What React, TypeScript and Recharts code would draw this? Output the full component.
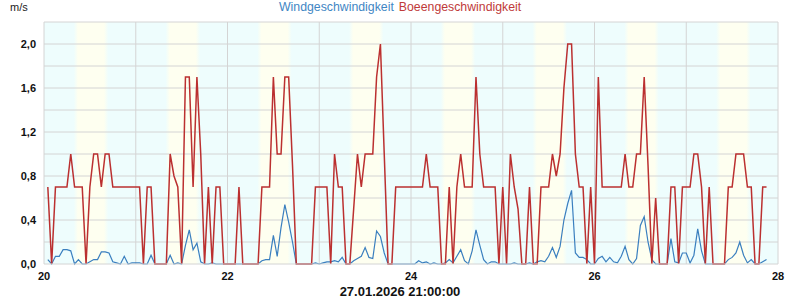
import { LineChart, Line, XAxis, YAxis, ReferenceArea, ReferenceLine } from 'recharts';

// hourly values, one array per day (hour 0..23), m/s
const days = [20, 21, 22, 23, 24, 25, 26, 27];

const gust20 = [null, 0.7, 0, 0.7, 0.7, 0.7, 0.7, 1.0, 0.7, 0.7, 0.7, 0, 0.7, 1.0, 1.0, 0.7, 1.0, 1.0, 0.7, 0.7, 0.7, 0.7, 0.7, 0.7];
const gust21 = [0.7, 0.7, 0, 0.7, 0.7, 0, 0, 0, 0, 1.0, 0.8, 0.7, 0, 1.7, 1.7, 0.7, 1.7, 1.0, 0, 0.7, 0, 0.7, 0.7, 0];
const gust22 = [0, 0, 0, 0.7, 0, 0, 0, 0, 0, 0.7, 0.7, 0.7, 1.7, 1.0, 1.0, 1.7, 1.7, 0.9, 0, 0, 0, 0, 0, 0.7];
const gust23 = [0.7, 0.7, 0.7, 0, 1.0, 0.7, 0.7, 0, 0, 0.5, 1.0, 0.7, 1.0, 1.0, 1.0, 1.7, 2.0, 1.0, 0, 0, 0.7, 0.7, 0.7, 0.7];
const gust24 = [0.7, 0.7, 0.7, 0.7, 1.0, 0.7, 0.7, 0.7, 0, 0, 0.7, 0, 0.7, 1.0, 0.7, 0.7, 0.7, 1.7, 1.0, 0.7, 0.7, 0.7, 0.7, 0];
const gust25 = [0.7, 0, 1.0, 0.7, 0.5, 0, 0, 0.7, 0, 0, 0.7, 0.7, 0.7, 1.0, 0.8, 1.0, 1.6, 2.0, 2.0, 1.0, 0.7, 0.7, 0, 0.7];
const gust26 = [0, 1.7, 0.7, 0.7, 0.7, 0.7, 0.7, 0.7, 1.0, 0.7, 0.7, 1.0, 1.0, 1.7, 0.9, 0, 0.6, 0, 0, 0, 0.7, 0.7, 0, 0.7];
const gust27 = [0.7, 0.7, 1.0, 1.0, 0.7, 0, 0.7, 0, 0, 0, 0, 0.7, 0.7, 1.0, 1.0, 1.0, 0.7, 0.7, 0, 0, 0.7, 0.7];

const wind20 = [null, 0.04, 0, 0.07, 0.07, 0.13, 0.13, 0.12, 0, 0.04, 0, 0, 0.02, 0.04, 0.04, 0.11, 0.11, 0.1, 0.02, 0.01, 0, 0.07, 0, 0.01];
const wind21 = [0.01, 0.01, 0, 0, 0.08, 0, 0, 0, 0, 0.08, 0, 0.01, 0, 0.17, 0.31, 0.13, 0.19, 0.02, 0, 0, 0.01, 0, 0, 0];
const wind22 = [0, 0, 0, 0, 0, 0, 0, 0, 0, 0.03, 0.04, 0.04, 0.26, 0.07, 0.33, 0.54, 0.38, 0.2, 0, 0, 0, 0, 0, 0.01];
const wind23 = [0, 0.01, 0.02, 0.02, 0.03, 0.02, 0.06, 0, 0, 0.03, 0.05, 0.07, 0.15, 0.06, 0.05, 0.3, 0.25, 0.1, 0, 0, 0, 0, 0, 0];
const wind24 = [0, 0, 0.03, 0.01, 0.02, 0, 0.01, 0, 0, 0.01, 0.04, 0.01, 0.07, 0.13, 0.03, 0, 0.12, 0.31, 0.17, 0.04, 0, 0.02, 0.02, 0];
const wind25 = [0, 0, 0, 0.01, 0, 0, 0, 0.01, 0, 0.02, 0.03, 0.02, 0.07, 0.15, 0.06, 0.16, 0.4, 0.55, 0.67, 0.1, 0.06, 0.06, 0.04, 0];
const wind26 = [0, 0.05, 0.07, 0.02, 0.06, 0.02, 0.01, 0.07, 0.16, 0.04, 0, 0.05, 0.35, 0.43, 0.2, 0.04, 0, 0, 0, 0, 0.23, 0.02, 0.01, 0.1];
const wind27 = [0.1, 0.01, 0.08, 0.32, 0.12, 0, 0, 0, 0, 0, 0, 0.04, 0.06, 0.1, 0.2, 0.08, 0.01, 0.04, 0, 0, 0.02, 0.04];

const gustByDay = [gust20, gust21, gust22, gust23, gust24, gust25, gust26, gust27];
const windByDay = [wind20, wind21, wind22, wind23, wind24, wind25, wind26, wind27];

// daylight (hours) for the yellow bands
const sunrise = 7.8;
const sunset = 16.8;

const xTicks = [20, 22, 24, 26, 28];
const dayLines = [21, 22, 23, 24, 25, 26, 27, 28];
const yTicks = [0, 0.2, 0.4, 0.6, 0.8, 1.0, 1.2, 1.4, 1.6, 1.8, 2.0, 2.2];

const data: { t: number; wind: number; gust: number }[] = [];
days.forEach((d, di) => {
  gustByDay[di].forEach((g, h) => {
    const w = windByDay[di][h];
    if (g === null || w === null) return;
    data.push({ t: d + h / 24, wind: w, gust: g });
  });
});

const CYAN = '#eefdfd';
const YELLOW = '#fefff0';
const GRID = '#d4d4d4';
const FONT = '"Liberation Sans", Arial, sans-serif';

const yFormat = (v: number) => (Math.round(v * 10) % 4 === 0 ? v.toFixed(1).replace('.', ',') : '');

export default function App() {
  return (
    <div style={{ position: 'absolute', left: 0, top: 0, width: 800, height: 300, background: '#fff', fontFamily: FONT }}>
      <div style={{ position: 'absolute', left: 10, top: 1, fontSize: 11, color: '#222' }}>m/s</div>
      <div style={{ position: 'absolute', left: 279, top: 0, fontSize: 12.3, whiteSpace: 'nowrap' }}>
        <span style={{ color: '#3f86c4' }}>Windgeschwindigkeit</span>
        <span style={{ color: '#c03a3a', marginLeft: 5 }}>Boeengeschwindigkeit</span>
      </div>
      <div style={{ position: 'absolute', left: 0, width: 800, top: 284, textAlign: 'center', fontSize: 13, fontWeight: 'bold', color: '#111' }}>
        27.01.2026 21:00:00
      </div>
      <LineChart width={800} height={300} data={data} margin={{ top: 22, right: 22, bottom: 0, left: 0 }}>
        <defs>
          <linearGradient id="dayBand" x1="0" y1="0" x2="1" y2="0">
            <stop offset="0" stopColor={CYAN} />
            <stop offset="0.12" stopColor={YELLOW} />
            <stop offset="0.88" stopColor={YELLOW} />
            <stop offset="1" stopColor={CYAN} />
          </linearGradient>
        </defs>
        <XAxis
          dataKey="t"
          type="number"
          domain={[20, 28]}
          ticks={xTicks}
          tickLine={false}
          axisLine={{ stroke: GRID }}
          height={36}
          tick={{ fontSize: 11, fontWeight: 'bold', fill: '#111', fontFamily: FONT }}
        />
        <YAxis
          type="number"
          domain={[0, 2.2]}
          ticks={yTicks}
          interval={0}
          tickFormatter={yFormat}
          tickLine={false}
          axisLine={{ stroke: GRID }}
          width={44}
          tick={{ fontSize: 11, fontWeight: 'bold', fill: '#111', fontFamily: FONT }}
        />
        <ReferenceArea x1={20} x2={28} y1={0} y2={2.2} fill={CYAN} fillOpacity={1} stroke="none" />
        {days.map(d => (
          <ReferenceArea
            key={'b' + d}
            x1={d + sunrise / 24}
            x2={d + sunset / 24}
            y1={0}
            y2={2.2}
            fill="url(#dayBand)"
            fillOpacity={1}
            stroke="none"
          />
        ))}
        {yTicks.slice(1).map(v => (
          <ReferenceLine key={'y' + v} y={v} stroke={GRID} strokeWidth={1} />
        ))}
        {dayLines.map(d => (
          <ReferenceLine key={'x' + d} x={d} stroke={GRID} strokeWidth={1} />
        ))}
        <Line
          type="linear"
          dataKey="wind"
          stroke="#3a7fbf"
          strokeWidth={1.2}
          dot={false}
          isAnimationActive={false}
        />
        <Line
          type="linear"
          dataKey="gust"
          stroke="#bb3030"
          strokeWidth={1.5}
          dot={false}
          isAnimationActive={false}
        />
      </LineChart>
    </div>
  );
}
